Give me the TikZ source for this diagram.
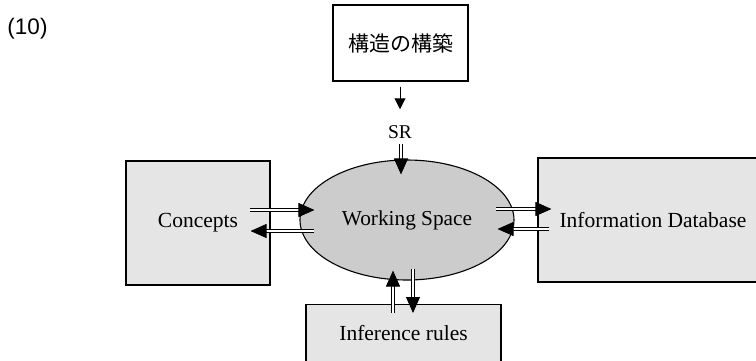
\documentclass[tikz,border=0pt]{standalone}
\usepackage{fontspec}
\setmainfont{Liberation Serif}
\newfontfamily\labsans{Liberation Sans}
\newfontfamily\cjkfont{Noto Sans CJK JP}
\usetikzlibrary{arrows.meta,shapes.geometric,calc}
\definecolor{boxgray}{HTML}{E5E5E5}
\definecolor{ellgray}{HTML}{CCCCCC}
\begin{document}
\begin{tikzpicture}[x=1pt,y=-1pt,
  box/.style={draw, line width=1.1pt, inner sep=0pt, font=\fontsize{21.5}{24}\selectfont},
  gbox/.style={box, fill=boxgray},
  dbl/.style={double, double distance=2.6pt, line width=0.9pt, -{Triangle[length=16pt,width=14pt]}},
  sgl/.style={line width=1pt, -{Triangle[length=11pt,width=11pt]}}
]
\useasboundingbox (0,0) rectangle (756,360);
\clip (0,0) rectangle (756,360);
\fill[white] (0,0) rectangle (756,360);

\node[font=\labsans\fontsize{22.5}{26}\selectfont] (num) at (27.5,29) {(10)};

\node[box, fill=white, minimum width=135pt, minimum height=76pt, font=\cjkfont\fontsize{21}{24}\selectfont] (top) at (400.5,43) {構造の構築};

\node[font=\fontsize{19.5}{22}\selectfont, inner sep=0pt] (sr) at (400,132) {SR};

\node[draw, line width=1.1pt, ellipse, fill=ellgray, minimum width=214pt, minimum height=120pt, inner sep=0pt, font=\fontsize{21.3}{24}\selectfont] (ws) at (407,220) {Working Space};

\node[gbox, minimum width=144pt, minimum height=124pt] (con) at (198,223) {Concepts};

\node[gbox, minimum width=230pt, minimum height=124pt] (info) at (653,220) {\raisebox{-4pt}{Information Database}};

\node[gbox, anchor=north, minimum width=195pt, inner ysep=0pt, text height=36pt, text depth=30pt] (inf) at (403.5,304) {Inference rules};

% top single arrow
\draw[sgl] ($(top.south)+(-0.5,5)$) -- ($(sr.north)+(0,-16)$);
% SR double arrow
\draw[dbl] ($(sr.south)+(1,5)$) -- ($(ws.north)+(-6,15)$);
% Concepts
\draw[dbl] ($(con.east)+(-21,-13)$) -- ($(ws.west)+(15,-10)$);
\draw[dbl] ($(ws.west)+(15,11)$) -- ($(con.east)+(-20,8)$);
% Information Database
\draw[dbl] ($(ws.east)+(-19,-11)$) -- ($(info.west)+(14,-11)$);
\draw[dbl] ($(info.west)+(12,9)$) -- ($(ws.east)+(-17,9)$);
% Inference rules
\draw[dbl] ($(inf.north)+(-10.5,9)$) -- ($(ws.south)+(-14,-10)$);
\draw[dbl] ($(ws.south)+(6,-12)$) -- ($(inf.north)+(9.5,9)$);
\end{tikzpicture}
\end{document}
